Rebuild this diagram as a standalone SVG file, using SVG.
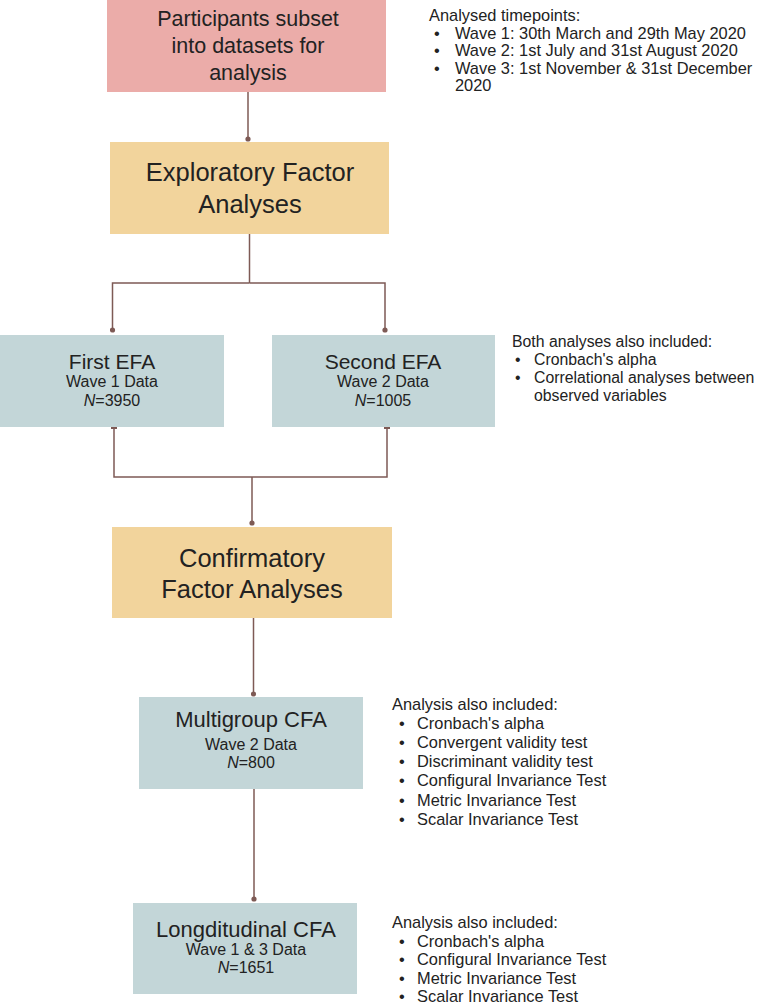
<svg xmlns="http://www.w3.org/2000/svg" width="762" height="1008" viewBox="0 0 762 1008">
<defs>
<style>
text{font-family:"Liberation Sans",Arial,sans-serif;fill:#222;}
.t1{font-size:21.5px;text-anchor:middle;}
.t2{font-size:25.5px;text-anchor:middle;}
.h{font-size:21px;text-anchor:middle;}
.h2{font-size:22px;text-anchor:middle;}
.s{font-size:16px;text-anchor:middle;}
.n{font-size:16px;text-anchor:middle;}
.note{font-size:16.4px;}
.note2{font-size:15.8px;}
.pink{fill:#EBACA9;}
.orange{fill:#F2D49C;}
.blue{fill:#C3D6D8;}
.c{stroke:#7E5A55;stroke-width:1.5;fill:none;}
</style>
<marker id="dot" viewBox="0 0 6 6" refX="3" refY="3" markerWidth="6" markerHeight="6" markerUnits="userSpaceOnUse"><circle cx="3" cy="3" r="2.6" fill="#7E5A55"/></marker>
<marker id="tick" viewBox="0 0 6 2" refX="3" refY="1" markerWidth="6" markerHeight="2" markerUnits="userSpaceOnUse"><rect x="0" y="0" width="6" height="2" fill="#7E5A55"/></marker>
</defs>

<g id="connectors">
<path class="c" d="M248,92 V139" marker-end="url(#dot)"/>
<path class="c" d="M249.5,234 V283"/>
<path class="c" d="M249.5,283 H112.5 V330" marker-end="url(#dot)"/>
<path class="c" d="M249.5,283 H385 V330" marker-end="url(#dot)"/>
<path class="c" d="M114,428 V477 H252" marker-start="url(#tick)"/>
<path class="c" d="M387,428 V477 H252" marker-start="url(#tick)"/>
<path class="c" d="M252,477 V523" marker-end="url(#dot)"/>
<path class="c" d="M253.5,618 V694" marker-end="url(#dot)"/>
<path class="c" d="M254,789 V899" marker-end="url(#dot)"/>
</g>

<g id="participants">
<rect class="pink" x="107" y="0" width="279" height="92"/>
<text class="t1" x="248" y="26">Participants subset</text>
<text class="t1" x="248" y="53">into datasets for</text>
<text class="t1" x="248" y="80">analysis</text>
</g>

<g id="timepoints-note">
<text class="note" x="429" y="21">Analysed timepoints:</text>
<text class="note" x="434" y="39">•</text><text class="note" x="455" y="39">Wave 1: 30th March and 29th May 2020</text>
<text class="note" x="434" y="56">•</text><text class="note" x="455" y="56">Wave 2: 1st July and 31st August 2020</text>
<text class="note" x="434" y="74">•</text><text class="note" x="455" y="74">Wave 3: 1st November &amp; 31st December</text>
<text class="note" x="455" y="91">2020</text>
</g>

<g id="efa">
<rect class="orange" x="110" y="142" width="279" height="92"/>
<text class="t2" x="250" y="181">Exploratory Factor</text>
<text class="t2" x="250" y="213">Analyses</text>
</g>

<g id="first-efa">
<rect class="blue" x="0" y="335" width="224" height="92"/>
<text class="h" x="112" y="369">First EFA</text>
<text class="s" x="112" y="387">Wave 1 Data</text>
<text class="n" x="112" y="406"><tspan font-style="italic">N</tspan>=3950</text>
</g>

<g id="second-efa">
<rect class="blue" x="272" y="335" width="223" height="92"/>
<text class="h" x="383" y="369">Second EFA</text>
<text class="s" x="383" y="387">Wave 2 Data</text>
<text class="n" x="383" y="406"><tspan font-style="italic">N</tspan>=1005</text>
</g>

<g id="efa-note">
<text class="note2" x="512" y="347">Both analyses also included:</text>
<text class="note2" x="515" y="365">•</text><text class="note2" x="534" y="365">Cronbach's alpha</text>
<text class="note2" x="515" y="383">•</text><text class="note2" x="534" y="383">Correlational analyses between</text>
<text class="note2" x="534" y="401">observed variables</text>
</g>

<g id="cfa">
<rect class="orange" x="112" y="527" width="280" height="91"/>
<text class="t2" x="252" y="567">Confirmatory</text>
<text class="t2" x="252" y="598">Factor Analyses</text>
</g>

<g id="multigroup-cfa">
<rect class="blue" x="139" y="697" width="224" height="92"/>
<text class="h2" x="251" y="727">Multigroup CFA</text>
<text class="s" x="251" y="750">Wave 2 Data</text>
<text class="n" x="251" y="768"><tspan font-style="italic">N</tspan>=800</text>
</g>

<g id="multigroup-note">
<text class="note" x="392" y="710">Analysis also included:</text>
<text class="note" x="399" y="729">•</text><text class="note" x="417" y="729">Cronbach's alpha</text>
<text class="note" x="399" y="748">•</text><text class="note" x="417" y="748">Convergent validity test</text>
<text class="note" x="399" y="767">•</text><text class="note" x="417" y="767">Discriminant validity test</text>
<text class="note" x="399" y="786">•</text><text class="note" x="417" y="786">Configural Invariance Test</text>
<text class="note" x="399" y="806">•</text><text class="note" x="417" y="806">Metric Invariance Test</text>
<text class="note" x="399" y="825">•</text><text class="note" x="417" y="825">Scalar Invariance Test</text>
</g>

<g id="longitudinal-cfa">
<rect class="blue" x="133" y="903" width="224" height="91"/>
<text class="h2" x="246" y="937">Longditudinal CFA</text>
<text class="s" x="246" y="955">Wave 1 &amp; 3 Data</text>
<text class="n" x="246" y="973"><tspan font-style="italic">N</tspan>=1651</text>
</g>

<g id="longitudinal-note">
<text class="note" x="392" y="928">Analysis also included:</text>
<text class="note" x="399" y="947">•</text><text class="note" x="417" y="947">Cronbach's alpha</text>
<text class="note" x="399" y="965">•</text><text class="note" x="417" y="965">Configural Invariance Test</text>
<text class="note" x="399" y="984">•</text><text class="note" x="417" y="984">Metric Invariance Test</text>
<text class="note" x="399" y="1002">•</text><text class="note" x="417" y="1002">Scalar Invariance Test</text>
</g>
</svg>
